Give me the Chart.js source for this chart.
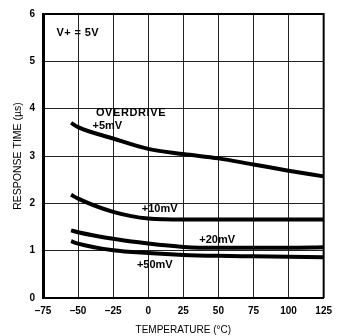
<!DOCTYPE html>
<html>
<head>
<meta charset="utf-8">
<script src="https://cdn.jsdelivr.net/npm/chart.js@4/dist/chart.umd.min.js"></script>
<style>
  html, body { margin: 0; padding: 0; background: #fff; }
  #wrap { width: 339px; height: 336px; position: relative; }
</style>
</head>
<body>
<div id="wrap"><canvas id="c"></canvas></div>
<script>
  var temps = [-55, -50, -25, 0, 25, 50, 75, 100, 125];
  // Response time (µs) per overdrive level.
  var od5mV = [3.70, 3.61, 3.37, 3.15, 3.04, 2.95, 2.82, 2.69, 2.57];
  var od10mV = [2.18, 2.10, 1.82, 1.68, 1.66, 1.66, 1.66, 1.66, 1.66];
  var od20mV = [1.43, 1.39, 1.25, 1.15, 1.08, 1.06, 1.06, 1.06, 1.07];
  var od50mV = [1.20, 1.15, 1.01, 0.95, 0.91, 0.89, 0.88, 0.87, 0.86];
  var xTicks = [-75, -50, -25, 0, 25, 50, 75, 100, 125];
  var yTicks = [0, 1, 2, 3, 4, 5, 6];

  function pts(vals) {
    return temps.map(function (t, i) { return { x: t, y: vals[i] }; });
  }

  function series(vals) {
    return {
      data: pts(vals),
      borderColor: '#000',
      borderWidth: 4,
      pointRadius: 0,
      fill: false,
      cubicInterpolationMode: 'monotone'
    };
  }

  var FONT = 'Liberation Sans, Arial, sans-serif';

  // Frame and the text labels printed inside the plot.
  var frameAndText = {
    id: 'frameAndText',
    afterDraw: function (chart) {
      var ctx = chart.ctx, a = chart.chartArea;
      var xs = chart.scales.x, ys = chart.scales.y;
      ctx.save();
      ctx.strokeStyle = '#000';
      ctx.lineWidth = 2;
      ctx.beginPath();
      ctx.moveTo(a.left, a.top); ctx.lineTo(a.right, a.top);
      ctx.lineTo(a.right, a.bottom);
      ctx.stroke();

      function label(txt, x, y, spacing) {
        ctx.letterSpacing = (spacing || 0) + 'px';
        ctx.fillText(txt, xs.getPixelForValue(x), ys.getPixelForValue(y));
      }
      ctx.fillStyle = '#000';
      ctx.font = 'bold 11px ' + FONT;
      ctx.textBaseline = 'middle';
      ctx.textAlign = 'left';
      label('V+ = 5V', -65.4, 5.59, 0.4);
      label('OVERDRIVE', -37.3, 3.90, 0.6);
      label('+5mV', -39.7, 3.63);
      label('+10mV', -4.6, 1.89);
      label('+20mV', 36.4, 1.23);
      label('+50mV', -8.1, 0.69);
      ctx.restore();
    }
  };

  new Chart(document.getElementById('c'), {
    type: 'line',
    data: {
      datasets: [series(od5mV), series(od10mV), series(od20mV), series(od50mV)]
    },
    options: {
      responsive: true,
      maintainAspectRatio: false,
      animation: false,
      layout: { padding: { left: 0, top: 14, right: 11, bottom: 0 } },
      plugins: { legend: { display: false }, tooltip: { enabled: false } },
      scales: {
        x: {
          type: 'linear',
          min: -75, max: 125,
          afterBuildTicks: function (s) { s.ticks = xTicks.map(function (v) { return { value: v }; }); },
          afterFit: function (s) { s.height = 38; },
          grid: { color: '#222', lineWidth: 1, drawTicks: false },
          border: { color: '#000', width: 2 },
          ticks: {
            color: '#000', padding: 7,
            font: { family: FONT, size: 10, weight: 'bold' },
            callback: function (v) { return v < 0 ? '\u2013' + Math.abs(v) : v; }
          },
          title: {
            display: true, text: 'TEMPERATURE (\u00B0C)', color: '#000',
            font: { family: FONT, size: 10 },
            padding: { top: 3, bottom: 0 }
          }
        },
        y: {
          min: 0, max: 6,
          afterBuildTicks: function (s) { s.ticks = yTicks.map(function (v) { return { value: v }; }); },
          afterFit: function (s) { s.width = 43; },
          grid: { color: '#222', lineWidth: 1, drawTicks: false },
          border: { color: '#000', width: 3 },
          ticks: {
            color: '#000', padding: 8,
            font: { family: FONT, size: 10, weight: 'bold' }
          },
          title: {
            display: true, text: 'RESPONSE TIME (\u00B5s)', color: '#000',
            font: { family: FONT, size: 10.5 },
            padding: { top: 12, bottom: 0 }
          }
        }
      }
    },
    plugins: [frameAndText]
  });
</script>
</body>
</html>
